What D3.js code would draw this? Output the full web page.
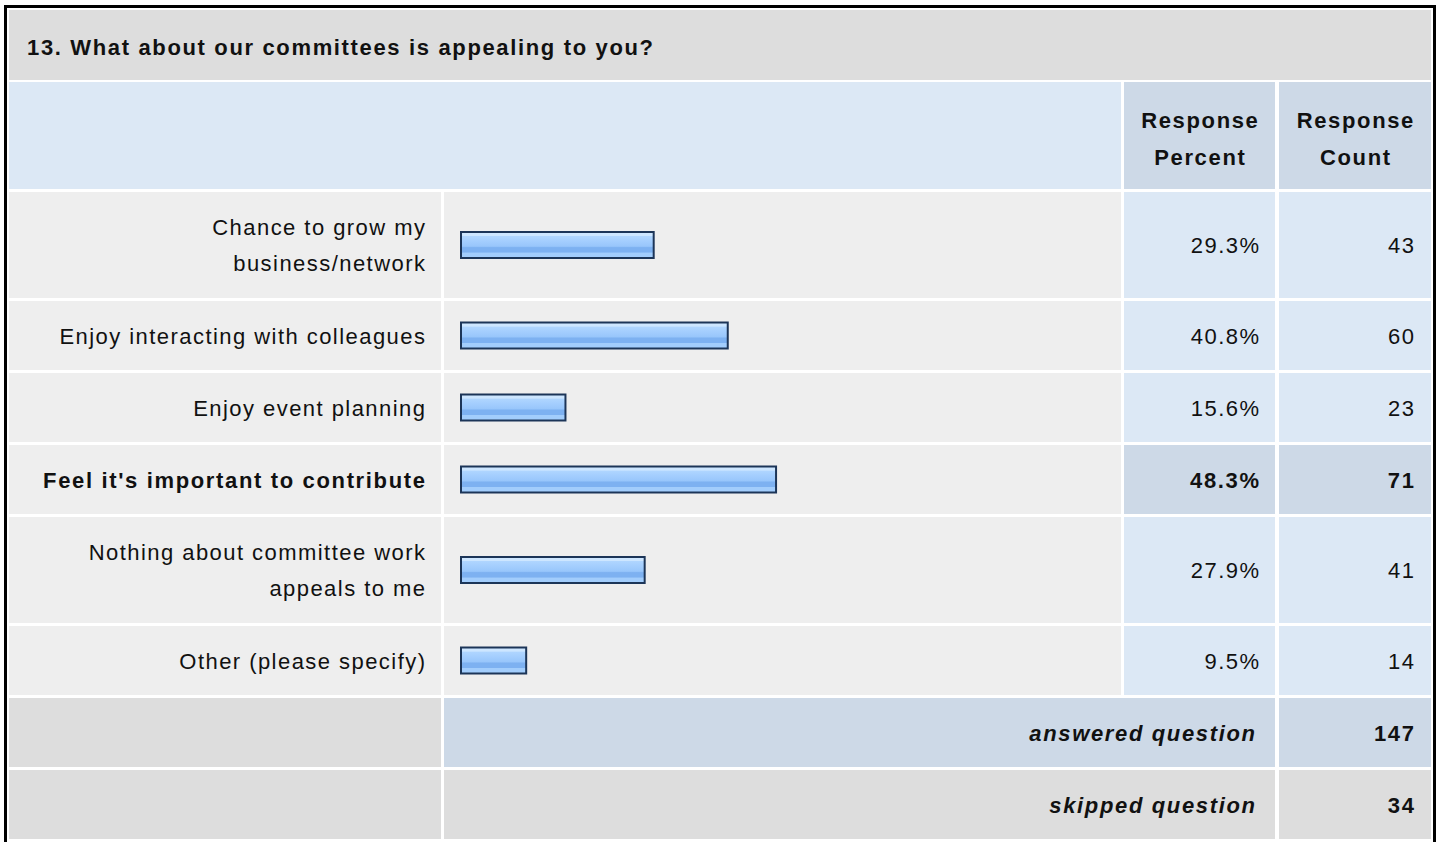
<!DOCTYPE html>
<html>
<head>
<meta charset="utf-8">
<script src="https://cdn.jsdelivr.net/npm/d3@7"></script>
<style>
  body { margin: 0; background: #ffffff; }
  svg text { font-family: "Liberation Sans", Arial, sans-serif; font-size: 22px; fill: #111; }
</style>
</head>
<body>
<div id="chart"></div>
<script>
//
// survey data
//
var title = "13. What about our committees is appealing to you?";
var categories = [
	["Chance to grow my", "business/network"],
	["Enjoy interacting with colleagues"],
	["Enjoy event planning"],
	["Feel it's important to contribute"],
	["Nothing about committee work", "appeals to me"],
	["Other (please specify)"]
];
var percents = [29.3, 40.8, 15.6, 48.3, 27.9, 9.5];
var counts = [43, 60, 23, 71, 41, 14];
var highlighted = [false, false, false, true, false, false];
var headerLabels = [["Response", "Percent"], ["Response", "Count"]];
var summaryLabels = ["answered question", "skipped question"];
var summaryValues = [147, 34];

//
// layout
//
var W = 1440, H = 842;
var colX = [9, 444, 1124, 1279];
var colW = [432, 677, 151, 152];
var gap = 3;
var rowH = categories.map(function(c) { return c.length > 1 ? 106 : 69; });
var lsN = 1.45, lsB = 1.65;   // letter spacing, normal / bold

var svg = d3.select("#chart").append("svg")
	.attr("width", W)
	.attr("height", H);

var defs = svg.append("defs");
var grad = defs.append("linearGradient")
	.attr("id", "barGrad")
	.attr("x1", 0).attr("y1", 0).attr("x2", 0).attr("y2", 1);
[[0, "#cde6ff"], [0.15, "#cde6ff"], [0.16, "#b0d6ff"], [0.35, "#a4cefe"], [0.55, "#98c6fb"],
 [0.6, "#7db1f1"], [0.78, "#7db1f1"], [0.8, "#a2cdfc"], [1, "#a2cdfc"]].forEach(function(s) {
	grad.append("stop").attr("offset", s[0]).attr("stop-color", s[1]);
});

// right aligned text helper (letter spacing adds a trailing gap)
function rtext(g, xx, yy, str, bold, italic) {
	var ls = bold ? lsB : lsN;
	return g.append("text")
		.attr("x", xx + ls).attr("y", yy)
		.attr("text-anchor", "end")
		.style("letter-spacing", ls + "px")
		.style("font-weight", bold ? "bold" : "normal")
		.style("font-style", italic ? "italic" : "normal")
		.text(str);
}

// outer frame
svg.append("rect")
	.attr("x", 5.5).attr("y", 6.5)
	.attr("width", 1429).attr("height", 850)
	.style("fill", "#ffffff")
	.style("stroke", "#000000")
	.style("stroke-width", 3);

// title row
svg.append("rect")
	.attr("x", 9).attr("y", 10)
	.attr("width", 1422).attr("height", 70)
	.style("fill", "#dddddd");
svg.append("text")
	.attr("x", 27).attr("y", 55)
	.style("font-weight", "bold")
	.style("letter-spacing", lsB + "px")
	.text(title);

// header row
var headY = 82, headH = 107;
svg.append("rect")
	.attr("x", colX[0]).attr("y", headY)
	.attr("width", colX[1] + colW[1] - colX[0]).attr("height", headH)
	.style("fill", "#dce8f5");
headerLabels.forEach(function(lines, i) {
	svg.append("rect")
		.attr("x", colX[2 + i]).attr("y", headY)
		.attr("width", colW[2 + i]).attr("height", headH)
		.style("fill", "#cdd9e7");
	lines.forEach(function(l, j) {
		svg.append("text")
			.attr("x", colX[2 + i] + colW[2 + i] / 2 + lsB / 2)
			.attr("y", 128 + j * 37)
			.attr("text-anchor", "middle")
			.style("font-weight", "bold")
			.style("letter-spacing", lsB + "px")
			.text(l);
	});
});

// x scale for the bars
var x = d3.scaleLinear()
	.domain([0, 100])
	.range([466, 1110]);
var barLeft = 460, barH = 28;

// data rows
var rowTop = [];
var yy = headY + headH + gap;
rowH.forEach(function(h) { rowTop.push(yy); yy += h + gap; });

var rows = svg.selectAll(".row")
	.data(categories)
	.enter().append("g")
	.attr("class", "row");

rows.each(function(d, i) {
	var g = d3.select(this);
	var top = rowTop[i], h = rowH[i], mid = top + h / 2;
	var bold = highlighted[i];
	var cellFill = bold ? "#cdd9e7" : "#dce8f5";

	g.append("rect").attr("x", colX[0]).attr("y", top).attr("width", colW[0]).attr("height", h).style("fill", "#eeeeee");
	g.append("rect").attr("x", colX[1]).attr("y", top).attr("width", colW[1]).attr("height", h).style("fill", "#eeeeee");
	g.append("rect").attr("x", colX[2]).attr("y", top).attr("width", colW[2]).attr("height", h).style("fill", cellFill);
	g.append("rect").attr("x", colX[3]).attr("y", top).attr("width", colW[3]).attr("height", h).style("fill", cellFill);

	d.forEach(function(l, j) {
		rtext(g, 425, mid + 8 + (j - (d.length - 1) / 2) * 36, l, bold, false);
	});

	g.append("rect")
		.attr("x", barLeft + 1)
		.attr("y", mid - barH / 2 + 1)
		.attr("width", x(percents[i]) - barLeft - 2)
		.attr("height", barH - 2)
		.style("fill", "url(#barGrad)")
		.style("stroke", "#1c3558")
		.style("stroke-width", 2);

	rtext(g, 1259, mid + 8, percents[i].toFixed(1) + "%", bold, false);
	rtext(g, 1414, mid + 8, counts[i], bold, false);
});

// summary rows
summaryLabels.forEach(function(lab, i) {
	var top = yy + i * (69 + gap), h = 69, mid = top + h / 2;
	var midFill = i === 0 ? "#cdd9e7" : "#dddddd";
	svg.append("rect").attr("x", colX[0]).attr("y", top).attr("width", colW[0]).attr("height", h).style("fill", "#dddddd");
	svg.append("rect").attr("x", colX[1]).attr("y", top).attr("width", colX[2] + colW[2] - colX[1]).attr("height", h).style("fill", midFill);
	svg.append("rect").attr("x", colX[3]).attr("y", top).attr("width", colW[3]).attr("height", h).style("fill", midFill);
	rtext(svg, 1255, mid + 8, lab, true, true);
	rtext(svg, 1414, mid + 8, summaryValues[i], true, false);
});
</script>
</body>
</html>
